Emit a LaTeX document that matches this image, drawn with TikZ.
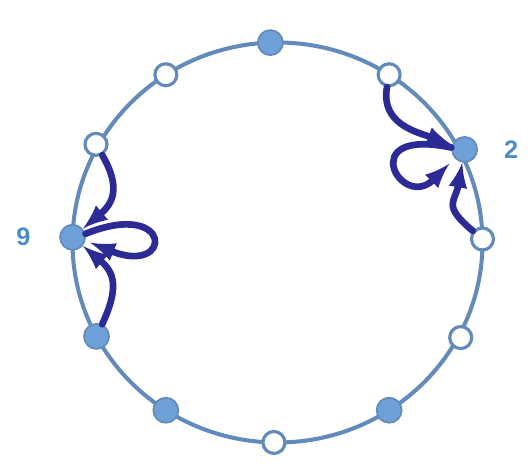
\documentclass[tikz,border=0pt]{standalone}
\usepackage{fontspec}
\setsansfont{Liberation Sans}
\usetikzlibrary{positioning}
\begin{document}
\begin{tikzpicture}[>=latex, line cap=round, line join=round]

% --- Colours and styles ---
\definecolor{ringblue}{RGB}{98,138,186}
\definecolor{dotblue}{RGB}{112,160,216}
\definecolor{inkblue}{RGB}{44,42,148}
\definecolor{labelblue}{RGB}{78,140,200}
\tikzset{
    ring/.style={
        draw=ringblue,
        line width=2.3pt
    },
    fulldot/.style={
        circle,
        fill=dotblue,
        draw=ringblue,
        line width=1pt,
        minimum size=0.5cm,
        inner sep=0pt
    },
    emptydot/.style={
        circle,
        fill=white,
        draw=ringblue,
        line width=1.8pt,
        minimum size=0.44cm,
        inner sep=0pt
    },
    flow/.style={
        ->,
        draw=inkblue,
        line width=3.8pt
    },
    tag/.style={
        text=labelblue,
        font=\sffamily\bfseries\Large
    }
}

\useasboundingbox (-5.55,-4.57) rectangle (5.05,4.85);

% =========================================================================
% --- Ring with its twelve points ---
% =========================================================================
\draw[ring] (0,0) ellipse [x radius=4.1cm, y radius=4.0cm];

\node[fulldot]  (p12) at (92:4.1cm and 4.0cm)   {};
\node[emptydot] (p1)  at (57:4.1cm and 4.0cm)   {};
\node[fulldot]  (p2)  at (27:4.2cm and 4.1cm)   {};
\node[emptydot] (p3)  at (1:4.1cm and 4.0cm)    {};
\node[emptydot] (p4)  at (-28:4.15cm and 4.05cm) {};
\node[fulldot]  (p5)  at (-57:4.1cm and 4.0cm)  {};
\node[emptydot] (p6)  at (-91:4.1cm and 4.0cm)  {};
\node[fulldot]  (p7)  at (-123:4.1cm and 4.0cm) {};
\node[fulldot]  (p8)  at (-152:4.1cm and 4.0cm) {};
\node[fulldot]  (p9)  at (178.5:4.1cm and 4.0cm) {};
\node[emptydot] (p10) at (151:4.15cm and 4.05cm) {};
\node[emptydot] (p11) at (123:4.1cm and 4.0cm)  {};

% --- Labels ---
\node[tag, left=0.45cm of p9]  (t9) {9};
\node[tag, right=0.4cm of p2] (t2) {2};

% =========================================================================
% --- Moves into point 2 ---
% =========================================================================
\draw[flow] (p1) to[out=-100, in=160, looseness=1.1] (p2);
\draw[flow] (p3) to[out=140, in=-100, looseness=1.5] (p2);
\draw[flow, shorten >=0.15cm]
    (p2.172) .. controls +(168:2.0) and +(225:1.5) .. (p2.222);

% =========================================================================
% --- Moves into point 9 ---
% =========================================================================
\draw[flow] (p10) to[out=-60, in=40, looseness=1.3] (p9);
\draw[flow] (p8) to[out=65, in=-40, looseness=1.3] (p9);
\draw[flow, shorten >=0.1cm]
    (p9.15) .. controls +(22:1.9) and +(-22:1.9) .. (p9.-15);

\end{tikzpicture}
\end{document}
